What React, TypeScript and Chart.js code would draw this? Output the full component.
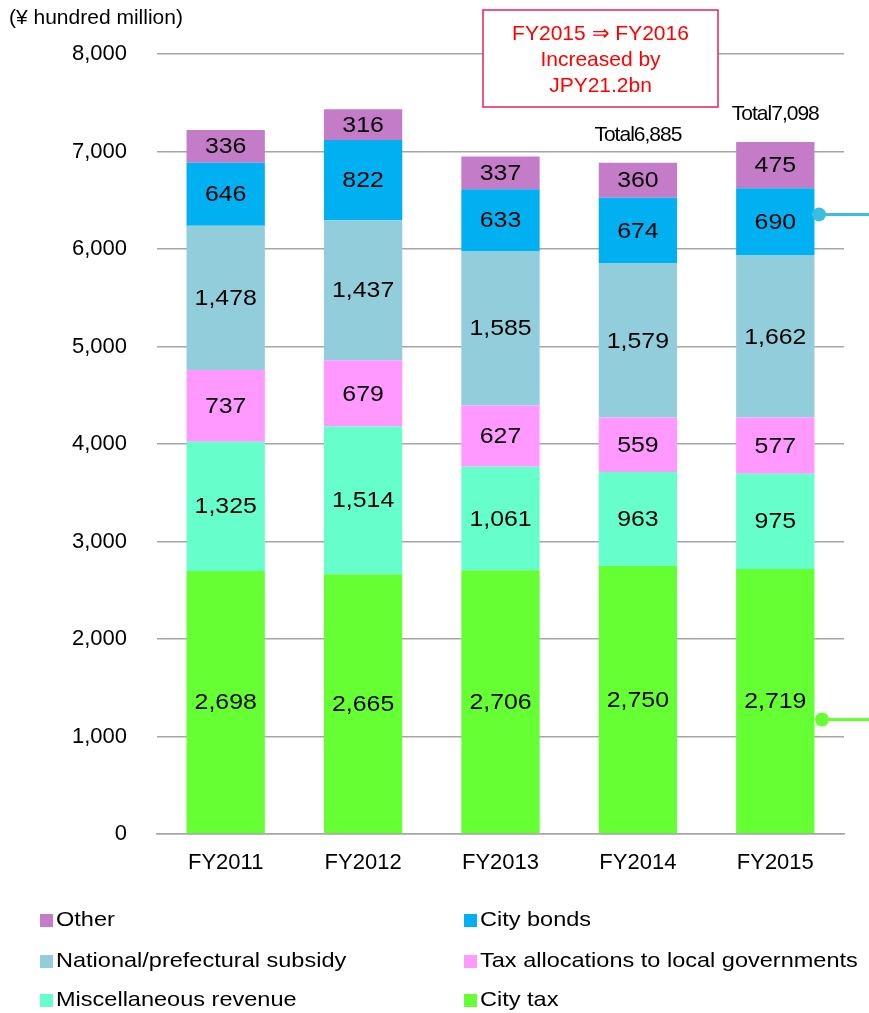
import React, { useEffect, useRef } from "react";
import { Chart, registerables } from "chart.js";

Chart.register(...registerables);

const categories = ["FY2011", "FY2012", "FY2013", "FY2014", "FY2015"];
const cityTax = [2698, 2665, 2706, 2750, 2719];
const miscRevenue = [1325, 1514, 1061, 963, 975];
const taxAllocations = [737, 679, 627, 559, 577];
const subsidy = [1478, 1437, 1585, 1579, 1662];
const cityBonds = [646, 822, 633, 674, 690];
const other = [336, 316, 337, 360, 475];
const showTotal = [false, false, false, true, true];
const yTicks = { min: 0, max: 8000, step: 1000 };
const unitLabel = "(¥ hundred million)";
const calloutLines = ["FY2015 ⇒ FY2016", "Increased by", "JPY21.2bn"];

const FONT = "'Liberation Sans', Arial, sans-serif";

const legendOrder = [
  { label: "Other", color: "#C47CC8" },
  { label: "City bonds", color: "#00B0F0" },
  { label: "National/prefectural subsidy", color: "#92CDDC" },
  { label: "Tax allocations to local governments", color: "#FF99FF" },
  { label: "Miscellaneous revenue", color: "#66FFCC" },
  { label: "City tax", color: "#66FF33" },
];

const fmt = (v: number) => v.toLocaleString("en-US");

const drawStretched = (ctx: any, text: string, x: number, y: number, sx: number) => {
  ctx.save();
  ctx.translate(x, y);
  ctx.scale(sx, 1);
  ctx.fillText(text, 0, 0);
  ctx.restore();
};

const overlayPlugin = {
  id: "overlay",
  afterDatasetsDraw(chart: any) {
    const ctx = chart.ctx;
    ctx.save();
    // data labels
    ctx.fillStyle = "#000";
    ctx.font = `22px ${FONT}`;
    ctx.textAlign = "center";
    ctx.textBaseline = "middle";
    chart.data.datasets.forEach((ds: any, di: number) => {
      const meta = chart.getDatasetMeta(di);
      meta.data.forEach((bar: any, i: number) => {
        const y = (bar.y + bar.base) / 2;
        drawStretched(ctx, fmt(ds.data[i]), bar.x, y + 1, 1.13);
      });
    });
    // totals
    const yScale = chart.scales.y;
    const lastMeta = chart.getDatasetMeta(chart.data.datasets.length - 1);
    ctx.font = `21px ${FONT}`;
    (ctx as any).letterSpacing = "-1px";
    categories.forEach((_, i) => {
      if (!showTotal[i]) return;
      let sum = 0;
      chart.data.datasets.forEach((ds: any) => (sum += ds.data[i]));
      const x = lastMeta.data[i].x;
      ctx.fillText("Total" + fmt(sum), x, yScale.getPixelForValue(sum) - 28);
    });
    (ctx as any).letterSpacing = "0px";
    ctx.restore();
  },
  afterDraw(chart: any) {
    const ctx = chart.ctx;
    ctx.save();
    // unit label
    ctx.fillStyle = "#000";
    ctx.font = `21px ${FONT}`;
    ctx.textAlign = "left";
    ctx.textBaseline = "middle";
    ctx.fillText(unitLabel, 9, 18);
    // callout box
    const bx = 483, by = 10, bw = 235, bh = 97;
    ctx.fillStyle = "#fff";
    ctx.fillRect(bx, by, bw, bh);
    ctx.strokeStyle = "#E8215A";
    ctx.lineWidth = 1.5;
    ctx.strokeRect(bx, by, bw, bh);
    ctx.fillStyle = "#FF0000";
    ctx.font = `21px ${FONT}`;
    ctx.textAlign = "center";
    calloutLines.forEach((t, i) => ctx.fillText(t, bx + bw / 2, 34 + i * 26));
    // right edge connectors
    const yScale = chart.scales.y;
    const drawConn = (x: number, y: number, color: string) => {
      ctx.strokeStyle = color;
      ctx.fillStyle = color;
      ctx.lineWidth = 3;
      ctx.beginPath();
      ctx.moveTo(x, y);
      ctx.lineTo(chart.width, y);
      ctx.stroke();
      ctx.beginPath();
      ctx.arc(x, y, 7, 0, Math.PI * 2);
      ctx.fill();
    };
    drawConn(819, yScale.getPixelForValue(6355), "#3BBDE0");
    drawConn(822, yScale.getPixelForValue(1175), "#66FF33");
    // legend
    ctx.font = `21px ${FONT}`;
    ctx.textAlign = "left";
    ctx.textBaseline = "middle";
    const cols = [40, 464];
    const rows = [920, 961, 1000];
    legendOrder.forEach((item, i) => {
      const x = cols[i % 2];
      const y = rows[Math.floor(i / 2)];
      ctx.fillStyle = item.color;
      ctx.fillRect(x, y - 6, 13, 13);
      ctx.fillStyle = "#000";
      drawStretched(ctx, item.label, x + 16, y, 1.12);
    });
    ctx.restore();
  },
};

export default function App() {
  const ref = useRef<HTMLCanvasElement | null>(null);
  useEffect(() => {
    if (!ref.current) return;
    const mk = (label: string, data: number[], color: string) => ({
      label,
      data,
      backgroundColor: color,
      borderWidth: 0,
      categoryPercentage: 1,
      barPercentage: 0.57,
    });
    const chart = new Chart(ref.current, {
      type: "bar",
      data: {
        labels: categories,
        datasets: [
          mk("City tax", cityTax, "#66FF33"),
          mk("Miscellaneous revenue", miscRevenue, "#66FFCC"),
          mk("Tax allocations to local governments", taxAllocations, "#FF99FF"),
          mk("National/prefectural subsidy", subsidy, "#92CDDC"),
          mk("City bonds", cityBonds, "#00B0F0"),
          mk("Other", other, "#C47CC8"),
        ],
      },
      options: {
        animation: false,
        responsive: false,
        maintainAspectRatio: false,
        layout: { padding: { left: 0, right: 25, top: 54, bottom: 0 } },
        plugins: {
          legend: { display: false },
          tooltip: { enabled: false },
          title: { display: false },
        },
        scales: {
          x: {
            stacked: true,
            grid: { display: false, drawTicks: false },
            border: { display: true, color: "#A6A6A6", width: 1.5 },
            ticks: {
              color: "#000",
              font: { family: FONT, size: 22 },
              padding: 16,
              maxRotation: 0,
            },
            afterFit: (s: any) => {
              s.height = 179;
            },
          },
          y: {
            stacked: true,
            min: yTicks.min,
            max: yTicks.max,
            grid: { color: "#A6A6A6", lineWidth: 1.5, drawTicks: false },
            border: { display: false },
            ticks: {
              stepSize: yTicks.step,
              color: "#000",
              font: { family: FONT, size: 22 },
              padding: 30,
              callback: (v: any) => fmt(Number(v)),
            },
            afterFit: (s: any) => {
              s.width = 157;
            },
          },
        },
      },
      plugins: [overlayPlugin],
    });
    return () => chart.destroy();
  }, []);
  return (
    <div style={{ position: "absolute", left: 0, top: 0, width: 869, height: 1013, background: "#fff" }}>
      <canvas ref={ref} width={869} height={1013} style={{ width: 869, height: 1013, display: "block" }} />
    </div>
  );
}
